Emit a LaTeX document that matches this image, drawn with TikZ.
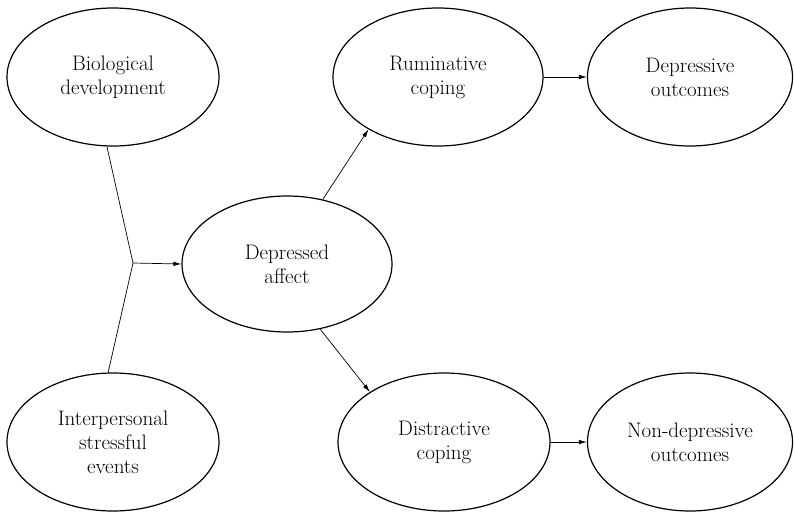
\documentclass[tikz,border=0pt]{standalone}
\usetikzlibrary{shapes.geometric,arrows.meta}
\begin{document}
\begin{tikzpicture}[x=1pt,y=-1pt,
  oval/.style={ellipse,draw,line width=1.2pt,inner sep=0pt,minimum width=212pt,minimum height=138pt,align=center,font=\fontsize{21}{24}\selectfont},
  conn/.style={line width=0.7pt,-{Latex[length=8pt,width=4.5pt]}},
  plainline/.style={line width=0.7pt}]
\useasboundingbox (0,0) rectangle (794,511);
\node[oval] (bd) at (113,77) {Biological\\development};
\node[oval] (ie) at (113,442) {Interpersonal\\stressful\\events};
\node[oval,minimum width=210pt,minimum height=136pt] (da) at (287,264) {Depressed\\affect};
\node[oval,minimum width=210pt] (rc) at (438,77) {Ruminative\\coping};
\node[oval,minimum width=205pt] (do) at (690,77) {Depressive\\outcomes};
\node[oval] (dc) at (444,442) {Distractive\\coping};
\node[oval,minimum width=205pt] (nd) at (690,442) {Non-depressive\\outcomes};
\coordinate (j) at (133,263);
\draw[plainline] (bd.265) -- (j) -- (ie.94);
\draw[conn] (j) -- (da.west);
\draw[conn] (da.61) -- (rc.217);
\draw[conn] (da.297) -- (dc.146);
\draw[conn] (rc.east) -- (do.west);
\draw[conn] (dc.east) -- (nd.west);
\end{tikzpicture}
\end{document}
